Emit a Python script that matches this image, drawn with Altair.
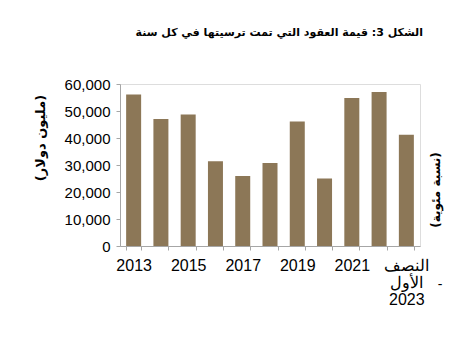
import altair as alt
import pandas as pd

categories = ["2013", "2014", "2015", "2016", "2017", "2018", "2019", "2020", "2021", "2022", "H1 2023"]
values = [56100, 47000, 48700, 31400, 25900, 30700, 46100, 25000, 54800, 57000, 41200]
y_ticks = [0, 10000, 20000, 30000, 40000, 50000, 60000]

title_text = "الشكل 3: قيمة العقود التي تمت ترسيتها في كل سنة"
left_title = "(مليون دولار)"
right_title = "(نسبة مئوية)"
last_label = ["النصف", "الأول", "2023"]

df = pd.DataFrame({"year": categories, "value": values})
one = pd.DataFrame({"a": [0]})

label_expr = (
    "datum.value == 'H1 2023' ? ['" + "','".join(last_label) + "'] : "
    "(toNumber(datum.value) % 2 == 1 ? datum.value : '')"
)

bars = alt.Chart(df).mark_bar(color="#8c7757").encode(
    x=alt.X(
        "year:N",
        sort=categories,
        scale=alt.Scale(paddingInner=0.45, paddingOuter=0.225),
        axis=alt.Axis(
            title=None,
            labelAngle=0,
            labelExpr=label_expr,
            tickBand="extent",
            ticks=True,
            tickSize=4,
            tickColor="#a6a6a6",
            domainColor="#a6a6a6",
            labelFont="Liberation Sans",
            labelFontSize=16,
            labelColor="#000000",
            labelPadding=7,
            labelLineHeight=17,
            labelOverlap=False,
        ),
    ),
    y=alt.Y(
        "value:Q",
        scale=alt.Scale(domain=[0, 60000]),
        axis=alt.Axis(
            title=None,
            values=y_ticks,
            format=",.0f",
            grid=False,
            tickSize=4,
            tickColor="#a6a6a6",
            domainColor="#a6a6a6",
            labelFont="Liberation Sans",
            labelFontSize=15,
            labelColor="#000000",
            labelPadding=6,
        ),
    ),
)

title = alt.Chart(one).mark_text(
    text=title_text, font="DejaVu Sans", fontSize=11, fontWeight="bold",
    align="right", baseline="middle", color="#000000",
).encode(x=alt.value(303), y=alt.value(-51))

ltitle = alt.Chart(one).mark_text(
    text=left_title, font="DejaVu Sans", fontSize=13, fontWeight="bold",
    align="center", baseline="middle", angle=270, color="#000000",
).encode(x=alt.value(-79), y=alt.value(54))

rtitle = alt.Chart(one).mark_text(
    text=right_title, font="DejaVu Sans", fontSize=12, fontWeight="bold",
    align="center", baseline="middle", angle=270, color="#000000",
).encode(x=alt.value(316), y=alt.value(106))

dash = alt.Chart(one).mark_text(
    text="-", font="Liberation Sans", fontSize=14, align="center",
    baseline="middle", color="#000000",
).encode(x=alt.value(320), y=alt.value(201))

topline = alt.Chart(one).mark_rule(color="#b3ac9a", strokeWidth=2).encode(
    x=alt.value(-98), x2=alt.value(340), y=alt.value(-83)
)

chart = alt.layer(bars, title, ltitle, rtitle, dash, topline).properties(
    width=300,
    height=162,
    autosize=alt.AutoSizeParams(type="none"),
    padding={"left": 112, "top": 76, "right": 24, "bottom": 105},
).configure_view(stroke=None).configure(background="#ffffff")

chart.save("out.html", embed_options={"renderer": "svg", "actions": False})
